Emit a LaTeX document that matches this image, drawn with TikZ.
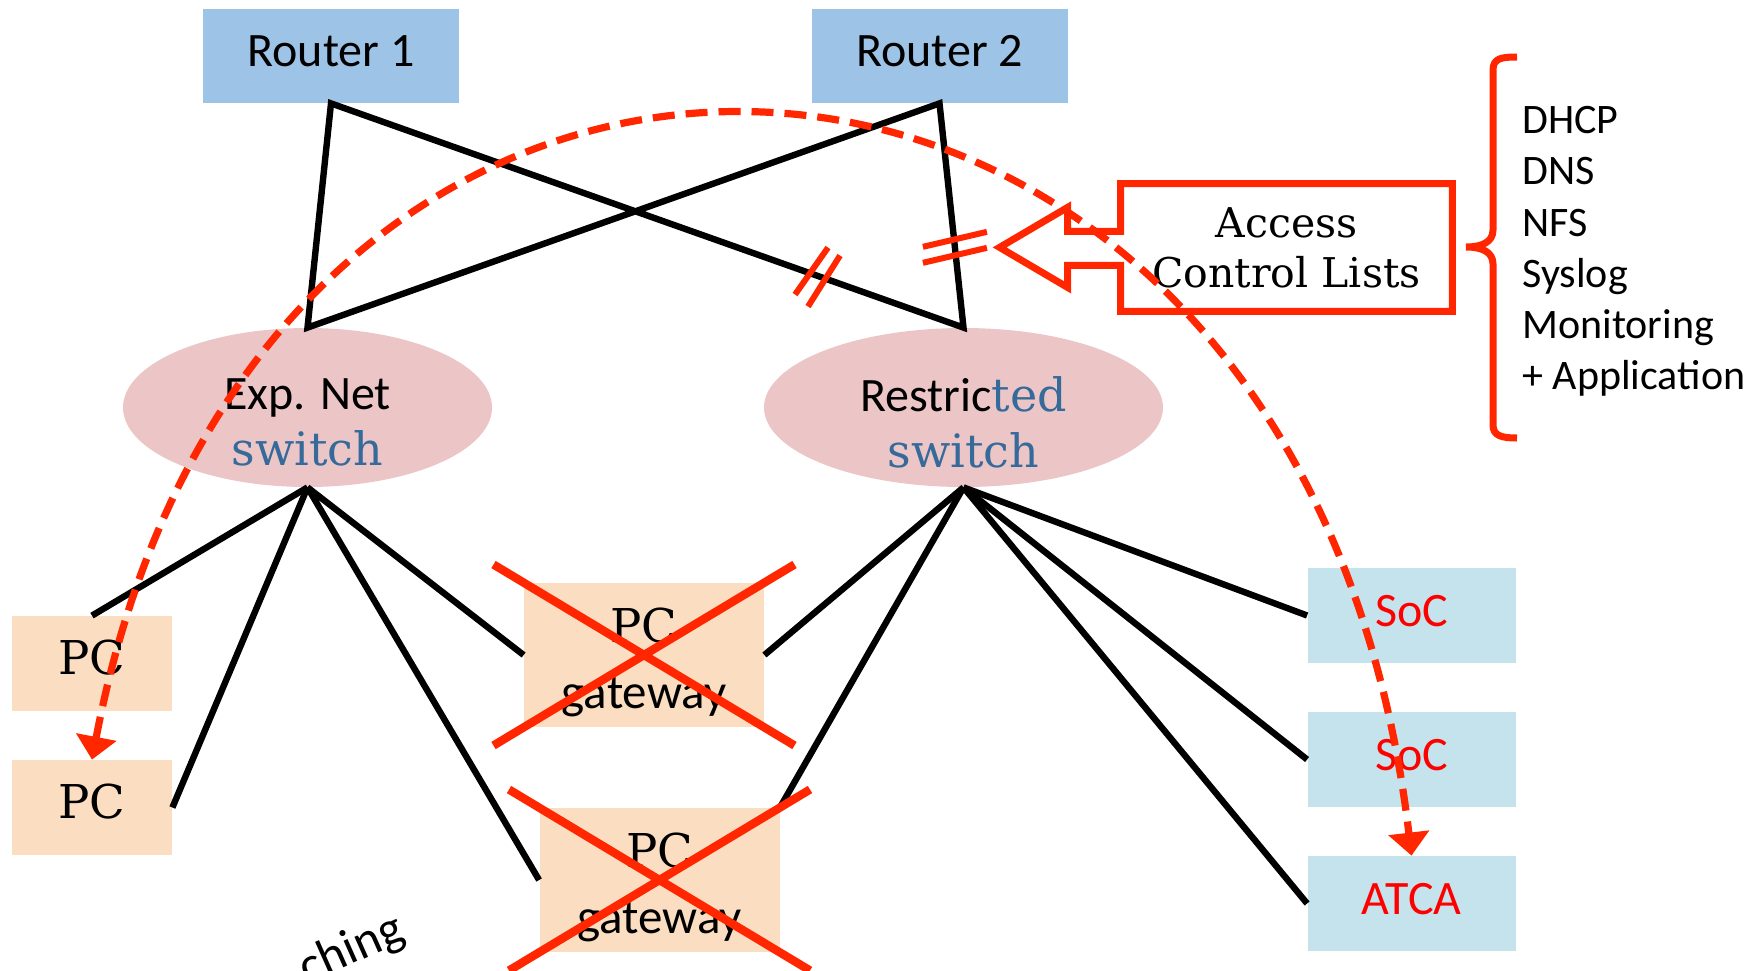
\documentclass[tikz,border=0pt]{standalone}
\usepackage{fontspec}
\setmainfont{DejaVu Serif}
\newfontfamily\calib{Carlito}
\usetikzlibrary{arrows.meta,calc,shapes.geometric}

\definecolor{routerblue}{RGB}{157,195,230}
\definecolor{switchpink}{RGB}{236,198,198}
\definecolor{textblue}{RGB}{54,106,155}
\definecolor{peach}{RGB}{251,221,193}
\definecolor{socblue}{RGB}{196,227,236}
\definecolor{alarm}{RGB}{255,38,0}
\definecolor{redtext}{RGB}{255,0,0}

% font helpers
\newcommand\fSans{\calib\fontsize{24}{28}\selectfont}
\newcommand\fSerif{\fontsize{23}{28}\selectfont}
\newcommand\fHost{\fontsize{23.3}{33}\selectfont}
\newcommand\fAcl{\fontsize{20.5}{25}\selectfont}
\newcommand\fList{\calib\fontsize{21}{25.6}\selectfont}

\begin{document}
\begin{tikzpicture}[x=0.5pt,y=-0.5pt,
  wire/.style={draw=black, line width=3.2pt, line join=miter},
  router/.style={rectangle, fill=routerblue, minimum width=128pt, minimum height=47pt, inner sep=0pt},
  switchnode/.style={ellipse, fill=switchpink, minimum height=79.5pt, inner sep=0pt},
  pcbox/.style={rectangle, fill=peach, minimum width=80pt, minimum height=47.5pt, inner sep=0pt},
  gwbox/.style={rectangle, fill=peach, minimum width=120pt, minimum height=72pt, inner sep=0pt},
  socbox/.style={rectangle, fill=socblue, minimum width=104pt, minimum height=47.5pt, inner sep=0pt},
  caption/.style={inner sep=0pt, align=center},
  cross/.style={draw=alarm, line width=4.2pt},
  bar/.style={draw=alarm, line width=3pt},
  outline/.style={draw=alarm, line width=3.5pt, line join=miter},
  flow/.style={draw=alarm, line width=3.6pt, dash pattern=on 11pt off 5.5pt,
    {Triangle[width=20pt,length=11.5pt]}-{Triangle[width=20pt,length=11.5pt]}},
]
\useasboundingbox (0,0) rectangle (1752,970);
\clip (0,0) rectangle (1752,970);

% routers
\node[router, label={[caption, font=\fSans, yshift=2.5pt]center:Router 1}] (r1) at (331,56) {};
\node[router, label={[caption, font=\fSans, yshift=2.5pt]center:Router 2}] (r2) at (939.5,56) {};

% switches
\node[switchnode, minimum width=184.5pt,
  label={[caption, font=\fSerif, yshift=-7.25pt]center:{\fSans Exp. Net}\\{\color{textblue}switch}}] (xs) at (307.5,407.5) {};
\node[switchnode, minimum width=199.5pt,
  label={[caption, font=\fSerif, yshift=-7.25pt]center:{\fSans Restric}{\color{textblue}ted}\\{\color{textblue}switch}}] (rs) at (963.5,407.5) {};

% hosts on the experiment net
\node[pcbox, label={[caption, font=\fHost, yshift=2.75pt]center:PC}] (pc1) at (92,663.5) {};
\node[pcbox, label={[caption, font=\fHost, yshift=2.75pt]center:PC}] (pc2) at (92,807.5) {};
\node[gwbox, label={[caption, font=\fHost, yshift=-3.6pt]center:PC\\{\calib\fontsize{24.5}{33}\selectfont gateway}}] (gw1) at (644,655) {};
\node[gwbox, label={[caption, font=\fHost, yshift=-3.6pt]center:PC\\{\calib\fontsize{24.5}{33}\selectfont gateway}}] (gw2) at (659.5,880) {};

% restricted hosts
\node[socbox, label={[caption, font=\fSans, text=redtext, yshift=2pt]center:SoC}] (soc1) at (1411.5,615.5) {};
\node[socbox, label={[caption, font=\fSans, text=redtext, yshift=2pt]center:SoC}] (soc2) at (1411.5,759.5) {};
\node[socbox, label={[caption, font=\fSans, text=redtext, yshift=2pt]center:ATCA}] (atca) at (1411.5,903.5) {};

% uplinks
\draw[wire] (xs.north) -- (r1.south) -- (rs.north) -- (r2.south) -- cycle;

% experiment net links
\draw[wire] (xs.south) -- (pc1.north);
\draw[wire] (xs.south) -- (pc2.east);
\draw[wire] (xs.south) -- (gw1.west);
\draw[wire] (xs.south) -- (gw2.west);

% restricted links
\draw[wire] (rs.south) -- (gw1.east);
\draw[wire] (rs.south) -- (gw2.north east);
\draw[wire] (rs.south) -- (soc1.west);
\draw[wire] (rs.south) -- (soc2.west);
\draw[wire] (rs.south) -- (atca.west);

% removed gateways
\draw[cross] ($(gw1.north west)!-0.125!(gw1.south east)$) -- ($(gw1.south east)!-0.125!(gw1.north west)$);
\draw[cross] ($(gw1.south west)!-0.125!(gw1.north east)$) -- ($(gw1.north east)!-0.125!(gw1.south west)$);
\draw[cross] ($(gw2.north west)!-0.125!(gw2.south east)$) -- ($(gw2.south east)!-0.125!(gw2.north west)$);
\draw[cross] ($(gw2.south west)!-0.125!(gw2.north east)$) -- ($(gw2.north east)!-0.125!(gw2.south west)$);

% blocked paths into the restricted switch
\path (r1.south) -- (rs.north) coordinate[pos=0.77] (cut1);
\path (r2.south) -- (rs.north) coordinate[pos=0.642] (cut2);
\draw[bar] ($(cut1)+(-23,18.5)$) -- ($(cut1)+(10,-28.5)$);
\draw[bar] ($(cut1)+(-10,30.5)$) -- ($(cut1)+(22,-20.5)$);
\draw[bar] ($(cut2)+(-32,-0.5)$) -- ($(cut2)+(32,-15.5)$);
\draw[bar] ($(cut2)+(-32,15.5)$) -- ($(cut2)+(32,0.5)$);

% access control lists call-out
\node[caption, font=\fAcl, minimum width=165.5pt, minimum height=63.5pt] (acl) at (1286.5,247.5) {Access\\Control Lists};
\draw[outline] (acl.north west) -- (acl.north east) -- (acl.south east) -- (acl.south west)
  -- ++(0,-46) -- ++(-53,0) -- ++(0,22) -- ++(-68,-40) -- ++(68,-40) -- ++(0,24) -- ++(53,0) -- cycle;

% services brace
\draw[draw=alarm, line width=3.5pt]
  (1517,57) .. controls (1502,57) and (1493,58) .. (1493,70) -- (1493,230)
  .. controls (1493,242) and (1482,247) .. (1466,247)
  .. controls (1482,247) and (1493,252) .. (1493,264) -- (1493,425)
  .. controls (1493,436) and (1502,438) .. (1517,438);
\node[inner sep=0pt, align=left, anchor=north west, font=\fList] (svc) at (1522,106)
  {DHCP\\DNS\\NFS\\Syslog\\Monitoring\\+ Application};

% rotated caption at the lower edge
\node[inner sep=0pt, rotate=24, font=\calib\fontsize{25}{30}\selectfont] (tail) at (352,950) {ching};

% migration path
\draw[flow] (pc2.north) .. controls (262,-136) and (1300,-88) .. (atca.north);
\end{tikzpicture}
\end{document}
